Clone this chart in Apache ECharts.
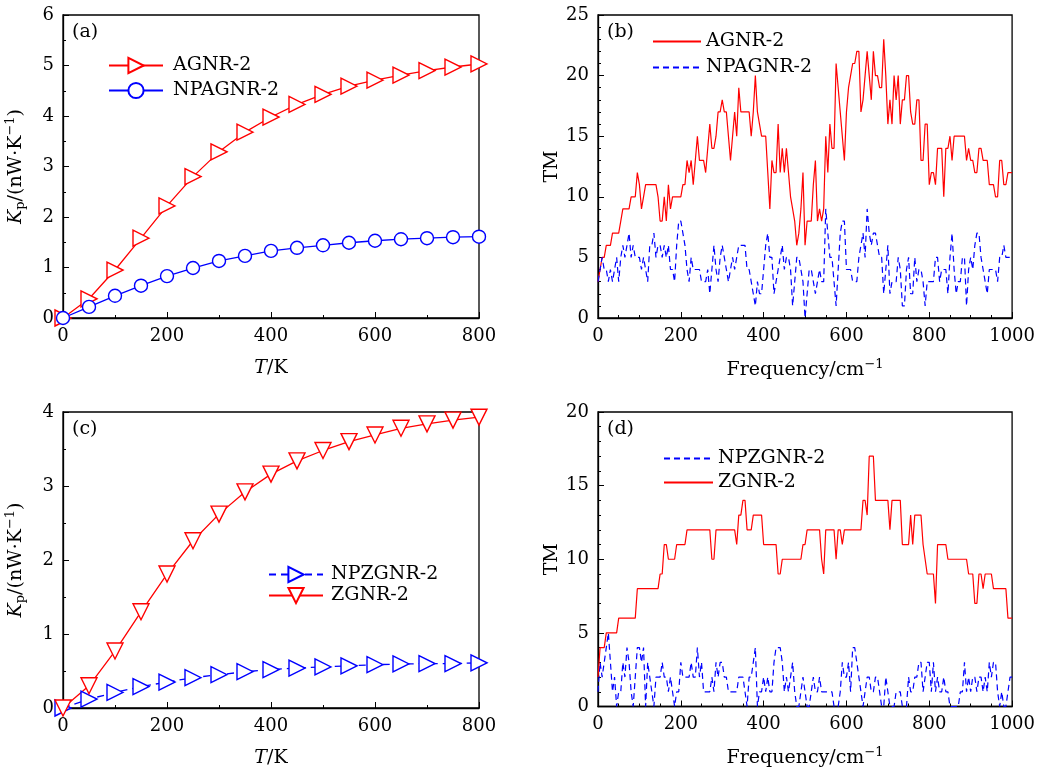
<!DOCTYPE html>
<html><head><meta charset="utf-8">
<script src="https://cdn.jsdelivr.net/npm/echarts@6/dist/echarts.min.js"></script>
<style>html,body{margin:0;padding:0;background:#fff}#c{width:1038px;height:769px}</style>
</head><body><div id="c"></div>
<script>
// ---------- data ----------
const tempK = [0,50,100,150,200,250,300,350,400,450,500,550,600,650,700,750,800];
const kpAGNR2   = [0,0.38,0.95,1.58,2.22,2.80,3.29,3.68,3.98,4.23,4.43,4.59,4.71,4.81,4.90,4.97,5.03];
const kpNPAGNR2 = [0,0.22,0.44,0.64,0.83,0.99,1.13,1.23,1.33,1.39,1.44,1.49,1.53,1.56,1.58,1.60,1.61];
const kpNPZGNR2 = [0,0.12,0.21,0.29,0.35,0.41,0.45,0.49,0.52,0.54,0.555,0.57,0.585,0.595,0.60,0.60,0.61];
const kpZGNR2   = [0,0.30,0.77,1.30,1.81,2.26,2.62,2.92,3.16,3.34,3.48,3.60,3.69,3.78,3.84,3.89,3.93];

// frequency sampling grid 0..1000 cm^-1, step 5
const freq = Array.from({length: 201}, (_, i) => i * 5);

const tmAGNR2 = [
 3,4,5,5,6,6,6,7,7,7,
 7,8,9,9,9,9,10,10,10,12,
 11,9,10,11,11,11,11,11,11,10,
 8,8,10,8,11,9,10,10,10,10,
 10,11,11,13,12,13,11,13,15,13,
 13,13,12,14,16,14,14,15,17,17,
 18,17,17,15,13,15,17,15,19,17,
 17,17,17,17,15,17,20,17,16,15,
 15,15,12,9,13,12,12,16,12,14,
 12,14,12,10,9,8,6,7,9,12,
 6,8,8,8,11,13,8,9,8,9,
 15,12,16,14,14,21,19,17,15,13,
 17,19,20,21,21,22,22,17,18,20,
 22,20,18,22,20,20,19,19,23,20,
 16,18,16,20,18,20,16,18,18,20,
 20,17,16,16,18,18,13,13,16,16,
 11,12,12,11,14,14,14,10,14,14,
 15,13,15,15,15,15,15,15,13,14,
 13,13,12,12,14,14,13,13,13,11,
 11,11,10,10,13,13,11,11,12,12,
 12];
const tmNPAGNR2 = [
 3,4,5,4,4,3,4,3,4,5,
 3,5,6,5,6,7,5,6,5,5,
 5,4,5,4,3,6,6,7,5,6,
 6,5,6,5,6,4,4,3,6,8,
 8,7,6,4,3,5,4,4,4,4,
 3,3,3,4,2,4,6,4,3,5,
 6,5,4,3,4,5,4,5,6,6,
 6,6,4,4,3,2,1,3,2,2,
 4,6,7,5,5,2,3,4,5,6,
 4,5,5,4,1,3,5,5,4,3,
 0,2,4,4,3,2,3,4,3,3,
 9,7,5,5,3,1,4,7,8,8,
 4,4,4,3,3,3,5,6,7,5,
 9,7,6,7,7,6,5,5,2,4,
 6,2,3,3,3,5,4,1,1,4,
 5,2,2,5,3,4,4,3,1,3,
 3,3,3,5,5,3,4,4,4,2,
 5,7,4,2,3,3,5,5,1,4,
 5,4,6,7,7,5,4,3,2,4,
 4,4,4,3,5,5,6,5,5,5,
 5];
const tmNPZGNR2 = [
 1,3,2,3,4,5,3,1,2,0,
 1,1,3,2,4,3,1,0,2,4,
 4,3,4,0,3,2,1,0,2,2,
 2,3,2,2,1,2,1,0,1,1,
 3,2,2,2,2,3,2,2,4,2,
 3,1,1,1,1,2,1,3,2,3,
 3,2,2,1,1,1,1,1,2,2,
 2,1,0,2,2,3,4,0,1,1,
 2,1,2,1,1,3,4,4,4,3,
 1,2,1,2,3,1,0,0,1,2,
 1,0,0,1,2,1,1,2,1,1,
 1,1,1,1,0,0,0,1,3,2,
 2,3,1,4,4,3,2,1,0,1,
 2,2,1,1,2,2,1,0,0,2,
 1,0,0,0,1,1,1,0,0,0,
 2,1,1,2,2,3,3,1,2,3,
 3,1,3,1,2,1,1,2,1,1,
 0,0,0,0,0,1,1,3,1,2,
 1,2,2,1,2,2,1,2,1,3,
 2,3,3,1,0,1,0,0,1,2,
 2];
const tmZGNR2 = [
 2,4,4,4,5,5,5,5,5,5,
 6,6,6,6,6,6,6,6,6,8,
 8,8,8,8,8,8,8,8,8,8,
 9,9,11,11,10,10,10,10,11,11,
 11,11,11,12,12,12,12,12,12,12,
 12,12,12,12,12,10,10,12,12,12,
 12,12,12,12,12,12,12,11,13,13,
 14,14,12,12,12,13,13,13,13,13,
 11,11,11,11,11,11,11,9,9,10,
 10,10,10,10,10,10,10,10,10,11,
 11,12,12,12,12,12,12,12,10,9,
 12,12,12,12,12,10,12,12,11,12,
 12,12,12,12,12,12,12,12,14,14,
 13,17,17,17,14,14,14,14,14,14,
 14,12,14,14,14,14,14,11,11,11,
 11,13,11,13,13,13,13,11,10,9,
 9,9,9,7,11,11,11,11,11,10,
 10,10,10,10,10,10,10,10,10,9,
 9,9,7,7,9,9,8,9,9,9,
 9,8,8,8,8,8,8,8,6,6,
 6];

// ---------- chart ----------
const FONT = '"DejaVu Serif", serif';
const RED = '#ff0000', BLUE = '#0000ff';
const pairs = (xs, ys) => xs.map((x, i) => [x, ys[i]]);

const nameRich = {
  it:{fontFamily:FONT, fontSize:19, fontStyle:'italic', color:'#000'},
  n:{fontFamily:FONT, fontSize:19, color:'#000'},
  sub:{fontFamily:FONT, fontSize:13, color:'#000', padding:[10,0,0,0]},
  sup:{fontFamily:FONT, fontSize:13, color:'#000', padding:[0,0,11,0]}
};

function axis(gi, min, max, interval, minorSplit, name, nameGap, rotate) {
  return {
    type:'value', gridIndex:gi, min, max, interval,
    axisLine:{show:true, onZero:false, lineStyle:{color:'#000', width:1.3}},
    axisTick:{show:true, inside:true, length:6, lineStyle:{color:'#000', width:1}},
    minorTick:{show:true, splitNumber:minorSplit, length:3, lineStyle:{color:'#000', width:1}},
    splitLine:{show:false}, minorSplitLine:{show:false},
    axisLabel:{color:'#000', fontFamily:FONT, fontSize:18, margin:9, formatter: v => String(v)},
    name, nameLocation:'middle', nameGap, nameRotate:rotate,
    nameTextStyle:{fontFamily:FONT, fontSize:19, color:'#000', rich:nameRich}
  };
}

const kpName = '{it|K}{sub|p}{n|/(nW·K}{sup|−1}{n|)}';
const tName = '{it|T}{n|/K}';
const fName = '{n|Frequency/cm}{sup|−1}';

const legendText = (pl) => ({fontFamily:FONT, fontSize:19, color:'#000', padding:[0,0,0,pl]});
const strip = n => n.split('#')[0];

const openSym = (c) => ({color:'#fff', borderColor:c, borderWidth:1.4});

const option = {
  animation:false,
  backgroundColor:'#fff',
  grid:[
    {left:63, top:15, width:416, height:303, show:true, borderColor:'#000', borderWidth:1.3},
    {left:598, top:15, width:416, height:303, show:true, borderColor:'#000', borderWidth:1.3},
    {left:63, top:412, width:416, height:303, show:true, borderColor:'#000', borderWidth:1.3},
    {left:598, top:412, width:416, height:302, show:true, borderColor:'#000', borderWidth:1.3}
  ],
  xAxis:[
    axis(0, 0, 800, 200, 2, tName, 41),
    axis(1, 0, 1000, 200, 4, fName, 40),
    axis(2, 0, 800, 200, 2, tName, 41),
    axis(3, 0, 1000, 200, 4, fName, 40)
  ],
  yAxis:[
    axis(0, 0, 6, 1, 2, kpName, 35, 90),
    axis(1, 0, 25, 5, 5, 'TM', 36, 90),
    axis(2, 0, 4, 1, 2, kpName, 35, 90),
    axis(3, 0, 20, 5, 5, 'TM', 36, 90)
  ],
  legend:[
    {data:['AGNR-2#a','NPAGNR-2#a'], left:108, top:56, padding:0, orient:'vertical', itemWidth:54, itemHeight:19, itemGap:6,
     selectedMode:false, formatter:strip, textStyle:legendText(5)},
    {data:['AGNR-2#b','NPAGNR-2#b'], left:652, top:32, padding:0, orient:'vertical', itemWidth:48, itemHeight:16, itemGap:7,
     selectedMode:false, formatter:strip, textStyle:legendText(0), itemStyle:{opacity:0}},
    {data:['NPZGNR-2#c','ZGNR-2#c'], left:268, top:565, padding:0, orient:'vertical', itemWidth:54, itemHeight:19, itemGap:2,
     selectedMode:false, formatter:strip, textStyle:legendText(3)},
    {data:['NPZGNR-2#d','ZGNR-2#d'], left:663, top:449, padding:0, orient:'vertical', itemWidth:49, itemHeight:16, itemGap:5,
     selectedMode:false, formatter:strip, textStyle:legendText(0), itemStyle:{opacity:0}}
  ],
  graphic:[
    {type:'text', left:72, top:23, style:{text:'(a)', font:'19px "DejaVu Serif"', fill:'#000'}},
    {type:'text', left:607, top:23, style:{text:'(b)', font:'19px "DejaVu Serif"', fill:'#000'}},
    {type:'text', left:72, top:420, style:{text:'(c)', font:'19px "DejaVu Serif"', fill:'#000'}},
    {type:'text', left:607, top:420, style:{text:'(d)', font:'19px "DejaVu Serif"', fill:'#000'}}
  ],
  series:[
    {name:'AGNR-2#a', type:'line', xAxisIndex:0, yAxisIndex:0, data:pairs(tempK, kpAGNR2),
     symbol:'triangle', symbolRotate:-90, symbolSize:16, lineStyle:{color:RED, width:1.3},
     itemStyle:openSym(RED), emphasis:{disabled:true}, clip:false},
    {name:'NPAGNR-2#a', type:'line', xAxisIndex:0, yAxisIndex:0, data:pairs(tempK, kpNPAGNR2),
     symbol:'circle', symbolSize:13, lineStyle:{color:BLUE, width:1.3},
     itemStyle:openSym(BLUE), emphasis:{disabled:true}, clip:false},

    {name:'AGNR-2#b', type:'line', xAxisIndex:1, yAxisIndex:1, data:pairs(freq, tmAGNR2),
     showSymbol:false, symbol:'none', lineStyle:{color:RED, width:1.2}, itemStyle:{color:RED}, emphasis:{disabled:true}},
    {name:'NPAGNR-2#b', type:'line', xAxisIndex:1, yAxisIndex:1, data:pairs(freq, tmNPAGNR2),
     showSymbol:false, symbol:'none', lineStyle:{color:BLUE, width:1.2, type:[6,4]}, itemStyle:{color:BLUE}, emphasis:{disabled:true}},

    {name:'NPZGNR-2#c', type:'line', xAxisIndex:2, yAxisIndex:2, data:pairs(tempK, kpNPZGNR2),
     symbol:'triangle', symbolRotate:-90, symbolSize:16, lineStyle:{color:BLUE, width:1.3, type:[7,5]},
     itemStyle:openSym(BLUE), emphasis:{disabled:true}, clip:false},
    {name:'ZGNR-2#c', type:'line', xAxisIndex:2, yAxisIndex:2, data:pairs(tempK, kpZGNR2),
     symbol:'triangle', symbolRotate:180, symbolSize:16, lineStyle:{color:RED, width:1.3},
     itemStyle:openSym(RED), emphasis:{disabled:true}, clip:false},

    {name:'NPZGNR-2#d', type:'line', xAxisIndex:3, yAxisIndex:3, data:pairs(freq, tmNPZGNR2),
     showSymbol:false, symbol:'none', lineStyle:{color:BLUE, width:1.2, type:[6,4]}, itemStyle:{color:BLUE}, emphasis:{disabled:true}},
    {name:'ZGNR-2#d', type:'line', xAxisIndex:3, yAxisIndex:3, data:pairs(freq, tmZGNR2),
     showSymbol:false, symbol:'none', lineStyle:{color:RED, width:1.2}, itemStyle:{color:RED}, emphasis:{disabled:true}}
  ]
};

const chart = echarts.init(document.getElementById('c'), null, {renderer:'canvas'});
chart.setOption(option);
</script></body></html>
